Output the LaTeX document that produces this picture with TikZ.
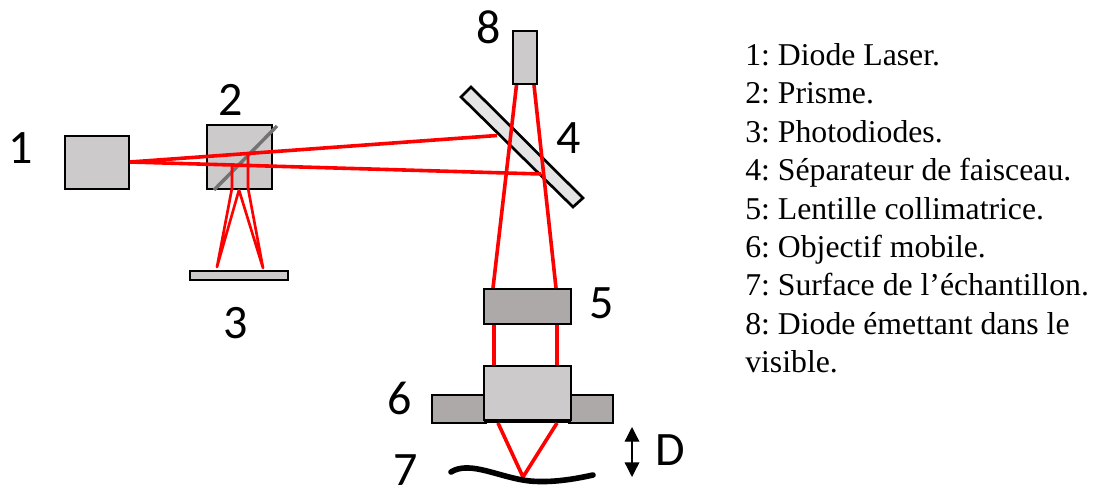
\documentclass[tikz,border=0pt]{standalone}
\usepackage{fontspec}
\setmainfont{Liberation Serif}
\newfontfamily\numfont{Carlito}
\usetikzlibrary{arrows.meta,calc}
\definecolor{lightgr}{HTML}{CCCACB}
\definecolor{darkgr}{HTML}{ADA9A8}
\definecolor{palegr}{HTML}{E4E4E4}
\definecolor{beam}{HTML}{FF0000}
\tikzset{
  x=0.75pt,y=-0.75pt,
  lens/.style={fill=darkgr},
  body/.style={fill=lightgr},
  ray/.style={draw=beam,line width=2.7pt,line join=round},
  thinray/.style={draw=beam,line width=2pt,line join=round},
  num/.style={font=\numfont\fontsize{36}{36}\selectfont,inner sep=0pt},
  legend/.style={font=\frenchspacing\fontsize{23.8}{23.8}\selectfont,anchor=base west,inner sep=0pt},
}
\newcommand{\boxat}[6]{% name, style, x1,y1,x2,y2
  \path[#2,draw=black,line width=2pt] (#3,#4) rectangle (#5,#6);
  \coordinate (#1) at ($(#3,#4)!0.5!(#5,#6)$);}
\begin{document}
\begin{tikzpicture}
\useasboundingbox (0,0) rectangle (1094,489);
% components
\boxat{laser}{body}{65}{136}{129}{189}
\boxat{prism}{body}{207}{125}{272}{189}
\boxat{photo}{body}{190}{271}{288}{280}
\boxat{visdiode}{body}{513}{31}{537}{84}
\coordinate (sa) at (461,97); \coordinate (sb) at (471,87);
\coordinate (sc) at (583,198); \coordinate (sd) at (573,207);
\path[fill=palegr,draw=black,line width=2pt] (sa) -- (sb) -- (sc) -- (sd) -- cycle;
\boxat{colli}{lens}{484}{289}{571}{324}
\boxat{objl}{lens}{432}{395}{486}{423}
\boxat{objr}{lens}{569}{395}{613}{423}
\boxat{obj}{body}{484}{366}{571}{420}
\draw[black,line width=2pt] (484,421.5) -- (571,421.5);
% prism diagonal
\coordinate (pa) at (214,190); \coordinate (pb) at (277,126);
\draw[draw=gray!90!black,line width=2.6pt] (pa) -- (pb);
% beams
\coordinate (src) at (130,162);
\coordinate (hitu) at (248,153.5); \coordinate (hitl) at (232,166.5);
\coordinate (endu) at (497,135.5); \coordinate (endl) at (541,174);
\coordinate (pu) at (248,188); \coordinate (pl) at (232,188);
\coordinate (pm) at (239,190);
\coordinate (phl) at (217,267); \coordinate (phr) at (263,268);
\draw[ray] (src) -- (endu);
\draw[ray] (src) -- (endl);
\draw[thinray] (hitl) -- (pl) -- (phl) -- (pm) -- (phr) -- (pu) -- (hitu);
\draw[ray] (516.5,85) -- (493,288);
\draw[ray] (534,85) -- (556,288);
\draw[ray] (494,325) -- (494,365);
\draw[ray] (557,325) -- (557,365);
\coordinate (focus) at (523,477);
\draw[ray] (498,423) -- (focus) -- (557,423);
% sample surface
\coordinate (s1) at (451,472); \coordinate (s2) at (593,475);
\draw[black,line width=4.2pt,line cap=round] (s1) .. controls (470,460) and (500,478) .. (530,481) .. controls (552,483) and (575,479) .. (s2);
% D arrow
\coordinate (da) at (632,427); \coordinate (db) at (632,477);
\draw[black,line width=1pt,{Triangle[length=11pt,width=11pt]}-{Triangle[length=11pt,width=11pt]}] (da) -- (db);
% labels
\node[num] (n1) at (21,148) {1};
\node[num] (n2) at (231,100) {2};
\node[num] (n3) at (236,323) {3};
\node[num] (n4) at (569,138) {4};
\node[num] (n5) at (602,303) {5};
\node[num] (n6) at (400,398) {6};
\node[num] (n7) at (406,470) {7};
\node[num] (n8) at (489,27) {8};
\node[num] (nD) at (670,450) {D};
% legend
\node[legend] (l1) at (745,65.5) {1: Diode Laser.};
\node[legend] (l2) at (745,103.9) {2: Prisme.};
\node[legend] (l3) at (745,142.3) {3: Photodiodes.};
\node[legend] (l4) at (745,180.7) {4: Séparateur de faisceau.};
\node[legend] (l5) at (745,219.1) {5: Lentille collimatrice.};
\node[legend] (l6) at (745,257.5) {6: Objectif mobile.};
\node[legend] (l7) at (745,295.9) {7: Surface de l’échantillon.};
\node[legend] (l8) at (745,334.3) {8: Diode émettant dans le};
\node[legend] (l9) at (745,372.7) {visible.};
\end{tikzpicture}
\end{document}
